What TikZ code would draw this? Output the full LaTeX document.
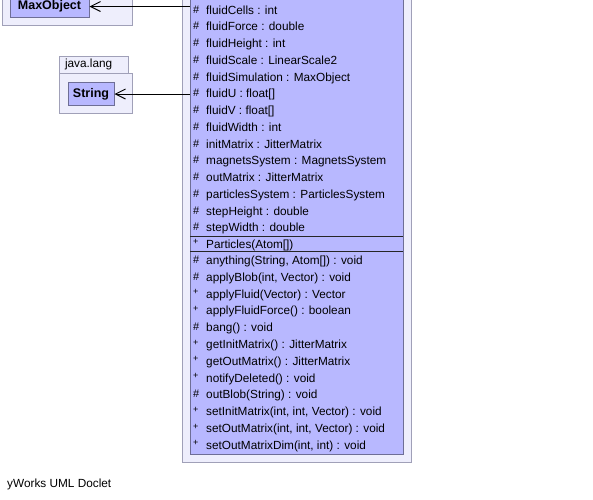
\documentclass[tikz,border=0pt]{standalone}
\usepackage{fontspec}
\setmainfont{Liberation Sans}
\usetikzlibrary{arrows.meta}
\definecolor{clsfill}{RGB}{184,184,255}
\definecolor{clsline}{RGB}{110,110,150}
\definecolor{boxfill}{RGB}{238,238,252}
\definecolor{boxline}{RGB}{160,160,184}
\tikzset{
	pkg/.style     = {draw=boxline, fill=boxfill, line width=1pt, inner sep=0pt},
	clsbox/.style  = {draw=clsline, fill=clsfill, line width=1pt, inner sep=0pt},
	member/.style  = {anchor=base west, inner sep=0pt, font=\fontsize{11.8}{12}\selectfont},
	vis/.style     = {anchor=base west, inner sep=0pt, font=\fontsize{11}{11}\selectfont},
	dep/.style     = {-{Straight Barb[length=10pt, width=10pt]}, line width=0.9pt}
}
\newcommand{\plusmark}{\raisebox{2.5pt}{\fontsize{9}{9}\selectfont+}}

\begin{document}
\begin{tikzpicture}[x=1pt, y=-1pt]
	\useasboundingbox (0,0) rectangle (593,499);
	% packages on the left
	\node at (67,-3) [pkg, minimum width=130, minimum height=56] (toppkg) {};
	\node at (49.5,6.5) [clsbox, minimum width=79, minimum height=21,
		font=\bfseries\fontsize{12.5}{13}\selectfont] (maxobj) {MaxObject};
	\node at (95.5,93) [pkg, minimum width=73, minimum height=40] (langpkg) {};
	\node at (93.5,64.5) [pkg, minimum height=17, text width=57, inner xsep=6pt,
		align=left, font=\fontsize{11.8}{12}\selectfont] (langtab) {java.lang};
	\node at (91,94) [clsbox, minimum width=46, minimum height=23,
		font=\bfseries\fontsize{12.5}{13}\selectfont] (string) {String};

	% the class
	\node at (296.5,211) [pkg, minimum width=229, minimum height=502] (outer) {};
	\node at (296.5,211) [clsbox, minimum width=213, minimum height=486] (cls) {};
	\draw[line width=1pt, black!85] (190,236) -- (403,236);
	\draw[line width=1pt, black!85] (190,251.5) -- (403,251.5);

	% attributes
	\foreach \v/\t [count=\i from 0] in {\#/{fluidCells : int}, \#/{fluidForce : double},
		\#/{fluidHeight : int}, \#/{fluidScale : LinearScale2},
		\#/{fluidSimulation : MaxObject}, \#/{fluidU : float[]}, \#/{fluidV : float[]},
		\#/{fluidWidth : int}, \#/{initMatrix : JitterMatrix},
		\#/{magnetsSystem : MagnetsSystem}, \#/{outMatrix : JitterMatrix},
		\#/{particlesSystem : ParticlesSystem}, \#/{stepHeight : double},
		\#/{stepWidth : double}}
	{
		\node[vis] (avis\i) at (193,{13+16.75*\i}) {\v};
		\node[member] (attr\i) at (206,{14+16.75*\i}) {\t};
	}

	% constructor
	\node[vis] (cvis) at (193,247) {\plusmark};
	\node[member] (ctor) at (206,248) {Particles(Atom[])};

	% methods
	\foreach \v/\t [count=\i from 0] in {\#/{anything(String, Atom[]) : void},
		\#/{applyBlob(int, Vector) : void}, \plusmark/{applyFluid(Vector) : Vector},
		\plusmark/{applyFluidForce() : boolean}, \#/{bang() : void},
		\plusmark/{getInitMatrix() : JitterMatrix},
		\plusmark/{getOutMatrix() : JitterMatrix},
		\plusmark/{notifyDeleted() : void}, \#/{outBlob(String) : void},
		\plusmark/{setInitMatrix(int, int, Vector) : void},
		\plusmark/{setOutMatrix(int, int, Vector) : void},
		\plusmark/{setOutMatrixDim(int, int) : void}}
	{
		\node[vis] (mvis\i) at (193,{263.5+16.8*\i}) {\v};
		\node[member] (meth\i) at (206,{264.5+16.8*\i}) {\t};
	}

	\draw[dep] (maxobj.east -| cls.west) -- (maxobj.east);
	\draw[dep] (string.east -| cls.west) -- (string.east);

	\node[member] (doclet) at (7,487) {yWorks UML Doclet};
\end{tikzpicture}
\end{document}
